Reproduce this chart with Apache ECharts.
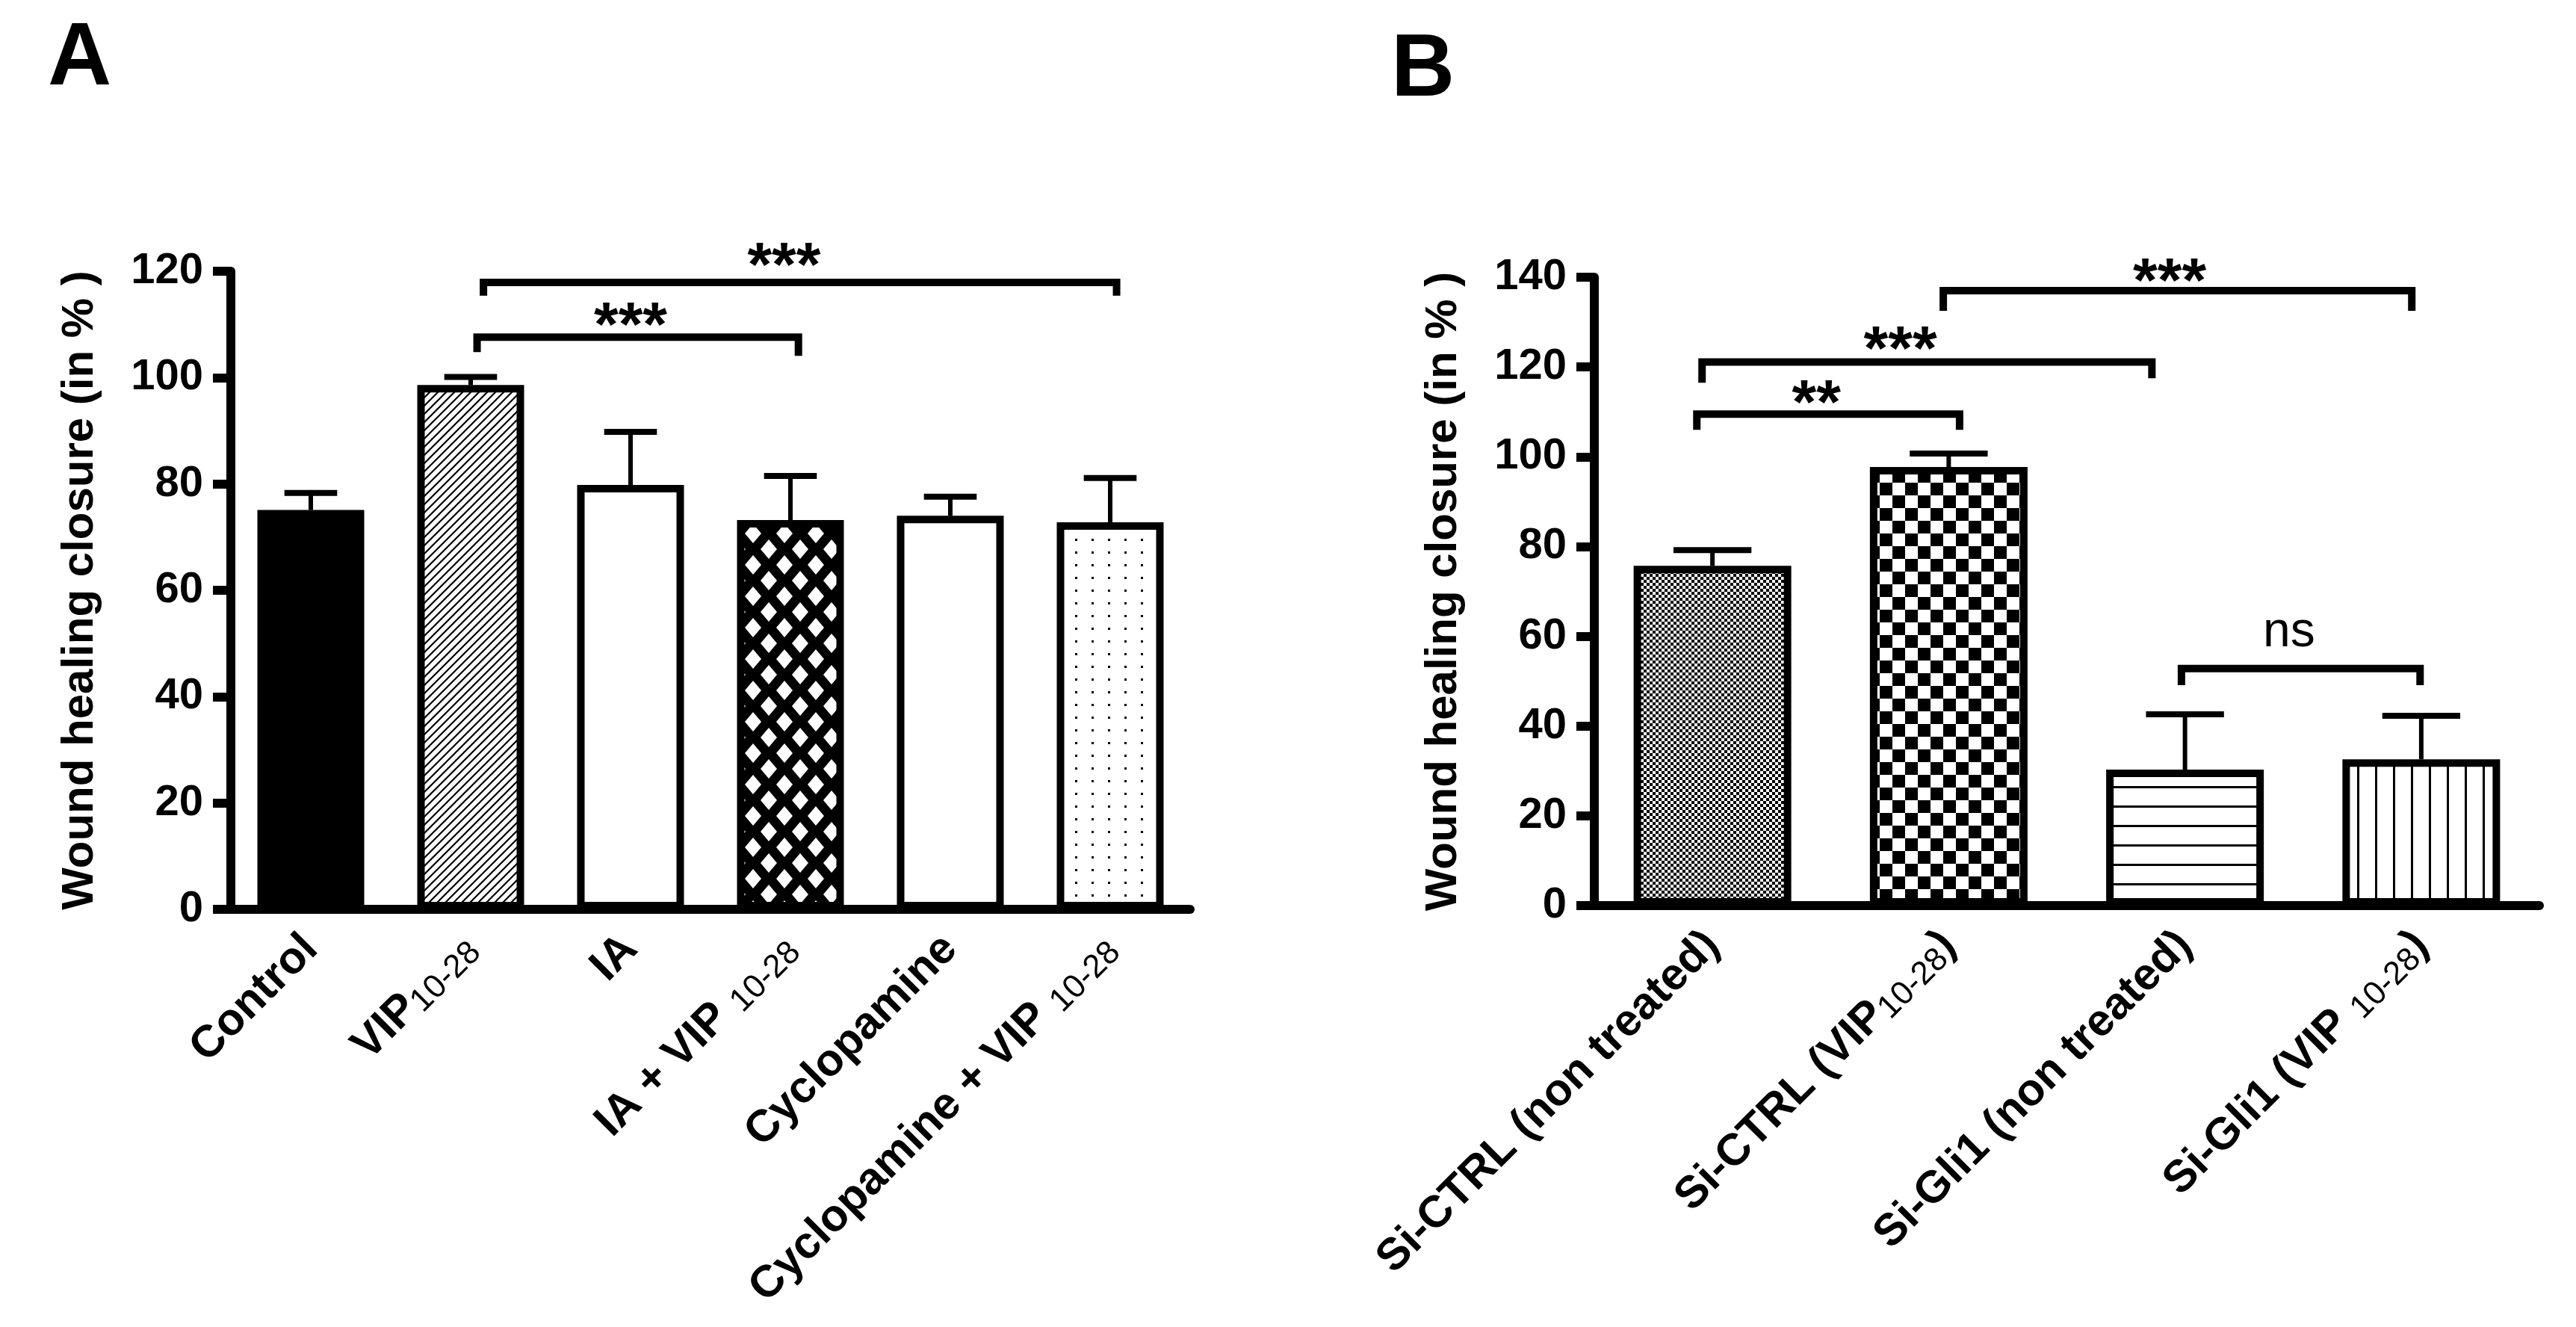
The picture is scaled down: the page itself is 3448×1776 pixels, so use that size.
<!DOCTYPE html>
<html>
<head>
<meta charset="utf-8">
<style>
  html, body { margin: 0; padding: 0; background: #fff; }
  #chart { width: 3448px; height: 1776px; }
</style>
<script src="https://cdn.jsdelivr.net/npm/echarts@6/dist/echarts.min.js"></script>
</head>
<body>
<div id="chart"></div>
<script>
const FONT = 'Liberation Sans';

// ---- panel A ----
const catsA = ['Control', 'VIP10-28', 'IA', 'IA + VIP 10-28', 'Cyclopamine', 'Cyclopamine + VIP 10-28'];
const labelPartsA = [['Control'], ['VIP', '10-28'], ['IA'], ['IA + VIP ', '10-28'], ['Cyclopamine'], ['Cyclopamine + VIP ', '10-28']];
const meanA = [75.1, 98.6, 79.8, 73.2, 74.0, 72.8];
const semA = [3.2, 1.5, 10.0, 8.3, 3.6, 8.3];
const fillA = ['solid', 'diag', 'white', 'diamond', 'white', 'dots'];
const yMaxA = 120, yStepA = 20;
// [from, to, lineY, dropLeft, dropRight, label, labelX, labelY]
const sigA = [
  [1.04, 3.05, 107.6, 104.8, 104.1, '***', 2.0, 112.1],
  [1.08, 5.04, 117.9, 115.4, 115.4, '***', 2.96, 123.4]
];

// ---- panel B ----
const catsB = ['Si-CTRL (non treated)', 'Si-CTRL (VIP10-28)', 'Si-Gli1 (non treated)', 'Si-Gli1 (VIP 10-28)'];
const labelPartsB = [['Si-CTRL (non treated)'], ['Si-CTRL (VIP', '10-28', ')'], ['Si-Gli1 (non treated)'], ['Si-Gli1 (VIP ', '10-28', ')']];
const meanB = [75.7, 97.7, 30.3, 32.6];
const semB = [3.5, 3.0, 12.3, 9.7];
const fillB = ['checkFine', 'checkCoarse', 'hlines', 'vlines'];
const yMaxB = 140, yStepB = 20;
const sigB = [
  [-0.066, 1.046, 109.5, 106.0, 106.0, '**', 0.44, 114.7],
  [-0.044, 1.86, 121.1, 116.5, 117.5, '***', 0.795, 126.7],
  [0.977, 2.96, 137.0, 132.5, 132.5, '***', 1.935, 141.9],
  [1.985, 2.995, 52.8, 49.1, 49.1, 'ns', 2.44, 60.1]
];

// hatch fills
function tile(w, h, draw) {
  const c = document.createElement('canvas');
  c.width = w; c.height = h;
  const g = c.getContext('2d');
  g.fillStyle = '#fff';
  g.fillRect(0, 0, w, h);
  g.fillStyle = '#000';
  g.strokeStyle = '#000';
  draw(g, w, h);
  return { image: c, repeat: 'repeat' };
}
const patterns = {
  solid: '#000',
  white: '#fff',
  diag: tile(11, 11, (g, w, h) => {
    g.lineWidth = 2.2;
    g.beginPath();
    g.moveTo(0, h); g.lineTo(w, 0);
    g.moveTo(-w / 2, h / 2); g.lineTo(w / 2, -h / 2);
    g.moveTo(w / 2, h * 1.5); g.lineTo(w * 1.5, h / 2);
    g.stroke();
  }),
  diamond: tile(42, 42, (g) => {
    g.fillRect(0, 0, 42, 42);
    g.fillStyle = '#fff';
    [[21, 21], [0, 0], [42, 0], [0, 42], [42, 42]].forEach(([cx, cy]) => {
      g.beginPath();
      g.moveTo(cx, cy - 13); g.lineTo(cx + 11, cy);
      g.lineTo(cx, cy + 13); g.lineTo(cx - 11, cy);
      g.closePath(); g.fill();
    });
  }),
  dots: tile(22, 17, g => g.fillRect(9, 7, 3, 3)),
  checkFine: tile(8, 8, g => { g.fillRect(0, 0, 4, 4); g.fillRect(4, 4, 4, 4); }),
  checkCoarse: tile(34, 34, g => { g.fillRect(0, 0, 17, 17); g.fillRect(17, 17, 17, 17); }),
  hlines: tile(8, 26, g => g.fillRect(0, 12, 8, 3)),
  vlines: tile(24, 8, g => g.fillRect(11, 0, 3, 8))
};

const rich = {
  b: { fontSize: 60, fontWeight: 'bold', fontFamily: FONT, color: '#000', lineHeight: 64 },
  s: { fontSize: 44, fontWeight: 'normal', fontFamily: FONT, color: '#000', verticalAlign: 'bottom', lineHeight: 34 }
};
function fmt(parts) {
  return parts.map((p, k) => (k === 1 ? '{s|' + p + '}' : '{b|' + p + '}')).join('');
}

function xAxis(idx, cats, parts) {
  return {
    gridIndex: idx, type: 'category', data: cats,
    axisLine: { lineStyle: { color: '#000', width: 12 } },
    axisTick: { alignWithLabel: true, length: 26, lineStyle: { color: '#000', width: 10 } },
    axisLabel: {
      interval: 0, rotate: 45, margin: 44,
      fontSize: 60, fontWeight: 'bold', fontFamily: FONT, color: '#000',
      formatter: (v, i) => fmt(parts[i]), rich: rich
    }
  };
}
function yAxis(idx, max, step) {
  return {
    gridIndex: idx, type: 'value', min: 0, max: max, interval: step,
    name: 'Wound healing closure (in % )', nameLocation: 'middle', nameGap: 172,
    nameTextStyle: { fontSize: 60, fontWeight: 'bold', fontFamily: FONT, color: '#000' },
    axisLine: { show: true, lineStyle: { color: '#000', width: 12 } },
    axisTick: { show: true, length: 24, lineStyle: { color: '#000', width: 12 } },
    axisLabel: { margin: 37, fontSize: 58, fontWeight: 'bold', fontFamily: FONT, color: '#000' },
    splitLine: { show: false }
  };
}
function barSeries(idx, means, fills, width) {
  return {
    type: 'bar', xAxisIndex: idx, yAxisIndex: idx, barWidth: width, z: 2,
    itemStyle: { borderColor: '#000', borderWidth: 10 },
    data: means.map((v, i) => ({ value: v, itemStyle: { color: patterns[fills[i]] } }))
  };
}
function errorSeries(idx, means, sems) {
  return {
    type: 'custom', xAxisIndex: idx, yAxisIndex: idx, z: 4,
    data: means.map((m, i) => [i, m, m + sems[i]]),
    renderItem(params, api) {
      const base = api.coord([api.value(0), api.value(1)]);
      const top = api.coord([api.value(0), api.value(2)]);
      const cap = api.size([1, 0])[0] * 0.33;
      return {
        type: 'group',
        children: [
          { type: 'line', shape: { x1: base[0], y1: base[1], x2: base[0], y2: top[1] },
            style: { stroke: '#000', lineWidth: 6 } },
          { type: 'line', shape: { x1: base[0] - cap / 2, y1: top[1], x2: base[0] + cap / 2, y2: top[1] },
            style: { stroke: '#000', lineWidth: 8 } }
        ]
      };
    }
  };
}
function sigSeries(idx, sig) {
  return {
    type: 'custom', xAxisIndex: idx, yAxisIndex: idx, z: 5, clip: false,
    data: sig.map(s => [0, s[2]]),
    renderItem(params, api) {
      const s = sig[params.dataIndex];
      const x0 = api.coord([0, 0])[0];
      const step = api.coord([1, 0])[0] - x0;
      const px = f => x0 + step * f;
      const py = v => api.coord([0, v])[1];
      const star = s[5].indexOf('*') >= 0;
      const fs = star ? 84 : 66;
      const dy = star ? 0.25 * fs : -0.07 * fs;
      return {
        type: 'group',
        children: [
          { type: 'polyline',
            shape: { points: [[px(s[0]), py(s[3])], [px(s[0]), py(s[2])], [px(s[1]), py(s[2])], [px(s[1]), py(s[4])]] },
            style: { stroke: '#000', fill: 'none', lineWidth: 10, lineJoin: 'miter' } },
          { type: 'text', x: px(s[6]), y: py(s[7]) + dy,
            style: { text: s[5], align: 'center', verticalAlign: 'middle', fontSize: fs,
                     fontWeight: star ? 'bold' : 'normal', fontFamily: FONT, fill: '#000' } }
        ]
      };
    }
  };
}

const chart = echarts.init(document.getElementById('chart'));
chart.setOption({
  backgroundColor: '#fff',
  animation: false,
  title: [
    { text: 'A', left: 64, top: 21, padding: 0, textStyle: { fontSize: 118, fontWeight: 'bold', fontFamily: FONT, color: '#000' } },
    { text: 'B', left: 1862, top: 36, padding: 0, textStyle: { fontSize: 118, fontWeight: 'bold', fontFamily: FONT, color: '#000' } }
  ],
  grid: [
    { left: 309, top: 363, width: 1284, height: 854 },
    { left: 2134, top: 371, width: 1265, height: 841 }
  ],
  xAxis: [xAxis(0, catsA, labelPartsA), xAxis(1, catsB, labelPartsB)],
  yAxis: [yAxis(0, yMaxA, yStepA), yAxis(1, yMaxB, yStepB)],
  series: [
    barSeries(0, meanA, fillA, 143),
    errorSeries(0, meanA, semA),
    sigSeries(0, sigA),
    barSeries(1, meanB, fillB, 211),
    errorSeries(1, meanB, semB),
    sigSeries(1, sigB)
  ]
});
</script>
</body>
</html>
